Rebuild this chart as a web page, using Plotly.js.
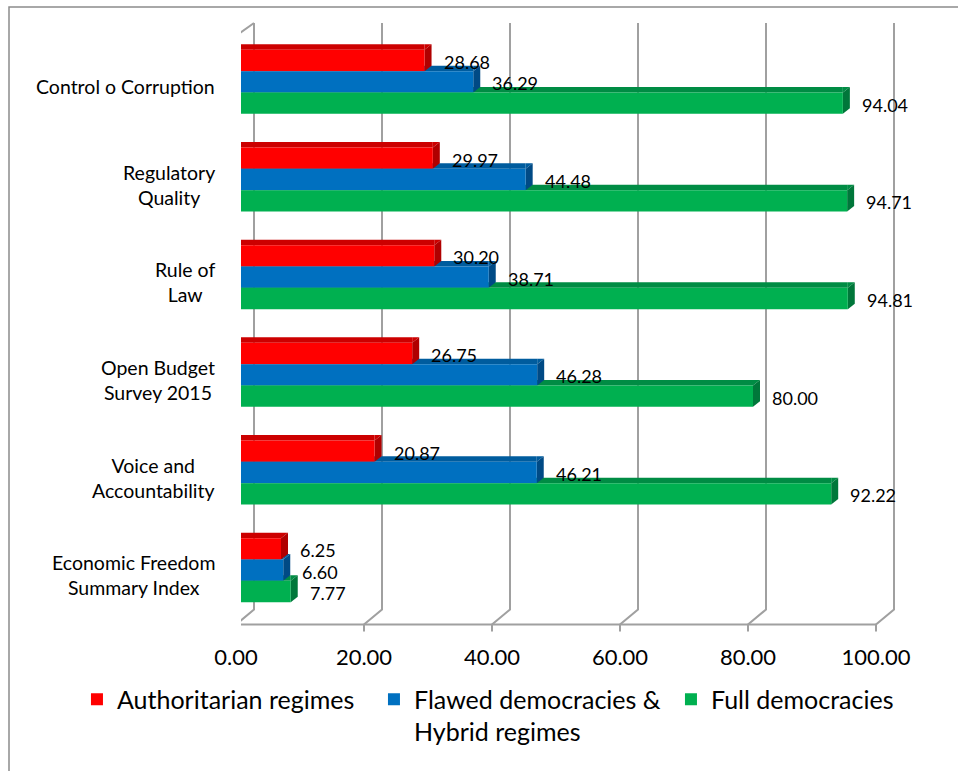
<!DOCTYPE html>
<html>
<head>
<meta charset="utf-8">
<script src="https://cdn.plot.ly/plotly-3.0.1.min.js"></script>
<style>html,body{margin:0;padding:0;background:#fff;}#chart{width:958px;height:771px;}</style>
</head>
<body>
<div id="chart"></div>
<script>
// ---- data ----
var categories = ["Control o Corruption", "Regulatory Quality", "Rule of Law", "Open Budget Survey 2015", "Voice and Accountability", "Economic Freedom Summary Index"];
var categoryLabels = ["Control o Corruption", "Regulatory<br>Quality", "Rule of<br>Law", "Open Budget<br>Survey 2015", "Voice and<br>Accountability", "Economic Freedom<br>Summary Index"];
var seriesNames = ["Authoritarian regimes", "Flawed democracies &<br>Hybrid regimes", "Full democracies"];
var authoritarian = [28.68, 29.97, 30.20, 26.75, 20.87, 6.25];
var flawedHybrid  = [36.29, 44.48, 38.71, 46.28, 46.21, 6.60];
var fullDemocracy = [94.04, 94.71, 94.81, 80.00, 92.22, 7.77];
var xTickVals = [0, 20, 40, 60, 80, 100];
var xTickText = ["0.00", "20.00", "40.00", "60.00", "80.00", "100.00"];

// ---- styles ----
var frontColors = ["#FF0000", "#0070C0", "#00B050"];
var sideColors  = ["#B00000", "#004A85", "#00773A"];
var topColors   = ["#CC0000", "#005C9E", "#008C44"];
var FONT = "Lato, 'Open Sans', sans-serif";
var W = 958, H = 771;
var M = {l: 241, r: 13, t: 33, b: 152, autoexpand: false};
var xMax = 110;
var plotW = W - M.l - M.r, plotH = H - M.t - M.b;
var pxPerUnit = plotW / xMax;
var bargap = 0.345;
var nCat = categories.length;
var barH = plotH / nCat * (1 - bargap) / 3;
var barW = (1 - bargap) / 3;          // in category units
var BDX = 7, BDY = 5.5;               // bar depth
var FX = -5, FY = -5.5;               // front plane offset
var BX = 13, BY = 9.5;                // back wall offset
var wallColor = "#A0A0A0";

var series = [authoritarian, flawedHybrid, fullDemocracy];
var traces = series.map(function (vals, k) {
  return {
    type: "bar", orientation: "h", name: seriesNames[k],
    x: vals, y: categories,
    marker: {color: frontColors[k], line: {width: 0}},
    hoverinfo: "skip"
  };
});

var shapes = [];
// chart frame
shapes.push({type: "path", xref: "paper", yref: "paper", xsizemode: "pixel", ysizemode: "pixel",
  xanchor: 0, yanchor: 1, path: "M " + (9 - M.l) + ",-800 L " + (9 - M.l) + "," + (M.t - 7) + " L 900," + (M.t - 7),
  line: {color: "#8C8C8C", width: 1.5}, layer: "below"});
// back wall gridlines, floor diagonals, front axis ticks
xTickVals.forEach(function (v) {
  shapes.push({type: "path", xref: "x", yref: "paper", xsizemode: "pixel", ysizemode: "pixel",
    xanchor: v, yanchor: 0,
    path: "M " + FX + "," + (FY - 7) + " L " + FX + "," + FY + " L " + BX + "," + BY + " L " + BX + "," + (plotH + 10),
    line: {color: wallColor, width: 2}, layer: "below"});
});
// front axis line
var axisLen = (xTickVals[xTickVals.length - 1] - xTickVals[0]) * pxPerUnit;
shapes.push({type: "path", xref: "x", yref: "paper", xsizemode: "pixel", ysizemode: "pixel",
  xanchor: xTickVals[0], yanchor: 0, path: "M " + FX + "," + FY + " L " + (axisLen + FX) + "," + FY,
  line: {color: wallColor, width: 2}, layer: "below"});
// left wall front edge + top slant
shapes.push({type: "path", xref: "x", yref: "paper", xsizemode: "pixel", ysizemode: "pixel",
  xanchor: 0, yanchor: 0, path: "M " + (FX - 1) + "," + FY + " L " + (FX - 1) + "," + (plotH - 3.5) + " L " + BX + "," + (plotH + 10),
  line: {color: wallColor, width: 2}, layer: "below"});
// category boundary ticks
for (var c = 0; c <= nCat; c++) {
  shapes.push({type: "path", xref: "x", yref: "y", xsizemode: "pixel", ysizemode: "pixel",
    xanchor: 0, yanchor: c - 0.5, path: "M " + (FX - 6) + ",-4 L " + (FX - 1) + ",-4",
    line: {color: wallColor, width: 2}, layer: "below"});
}
// 3D bar faces (bottom bar first so upper bars overlap)
var annotations = [];
for (var i = 0; i < nCat; i++) {
  for (var k = 2; k >= 0; k--) {
    var v = series[k][i];
    var yc = i + (k - 1) * barW;
    var hh = barH / 2;
    shapes.push({type: "rect", xref: "x", yref: "y", ysizemode: "pixel", yanchor: yc,
      x0: 0, x1: v, y0: hh, y1: hh + BDY, fillcolor: topColors[k], line: {width: 0}, layer: "below"});
    shapes.push({type: "path", xref: "x", yref: "y", xsizemode: "pixel", ysizemode: "pixel",
      xanchor: v, yanchor: yc,
      path: "M 0," + hh + " L " + BDX + "," + (hh + BDY) + " L 0," + (hh + BDY) + " Z",
      fillcolor: topColors[k], line: {width: 0}, layer: "below"});
    shapes.push({type: "path", xref: "x", yref: "y", xsizemode: "pixel", ysizemode: "pixel",
      xanchor: v, yanchor: yc,
      path: "M 0," + (-hh) + " L 0," + hh + " L " + BDX + "," + (hh + BDY) + " L " + BDX + "," + (-hh + BDY) + " Z",
      fillcolor: sideColors[k], line: {width: 0}, layer: "below"});
  }
  for (var k2 = 0; k2 < 3; k2++) {
    annotations.push({x: series[k2][i], y: i + (k2 - 1) * barW, xref: "x", yref: "y",
      text: series[k2][i].toFixed(2), showarrow: false, xanchor: "left", yanchor: "middle",
      xshift: 17, yshift: -1.5, font: {family: FONT, size: 18, color: "#000"}});
  }
  annotations.push({x: 0, y: i, xref: "paper", yref: "y", text: categoryLabels[i], showarrow: false,
    xanchor: "right", yanchor: "middle", align: "center", xshift: -24, yshift: -5,
    font: {family: FONT, size: 19.5, color: "#000"}});
}

var layout = {
  width: W, height: H,
  margin: M,
  paper_bgcolor: "#fff", plot_bgcolor: "rgba(0,0,0,0)",
  barmode: "group", bargap: bargap, bargroupgap: 0,
  font: {family: FONT, color: "#000"},
  xaxis: {range: [0, xMax], tickvals: xTickVals, ticktext: xTickText, showgrid: false, zeroline: false,
    showline: false, ticks: "", ticklabelstandoff: 23, ticklabelshift: -5,
    tickfont: {family: FONT, size: 22, color: "#000"}, fixedrange: true},
  yaxis: {type: "category", range: [nCat - 0.5, -0.5], showticklabels: false, showgrid: false,
    zeroline: false, showline: false, ticks: "", fixedrange: true},
  showlegend: true,
  legend: {orientation: "h", x: -0.233, xanchor: "left", y: -0.098, yanchor: "top",
    font: {family: FONT, size: 25, color: "#000"}, valign: "top", traceorder: "normal",
    entrywidth: 252, entrywidthmode: "pixels"},
  shapes: shapes,
  annotations: annotations
};

Plotly.newPlot("chart", traces, layout, {displayModeBar: false, staticPlot: true});
</script>
</body>
</html>
